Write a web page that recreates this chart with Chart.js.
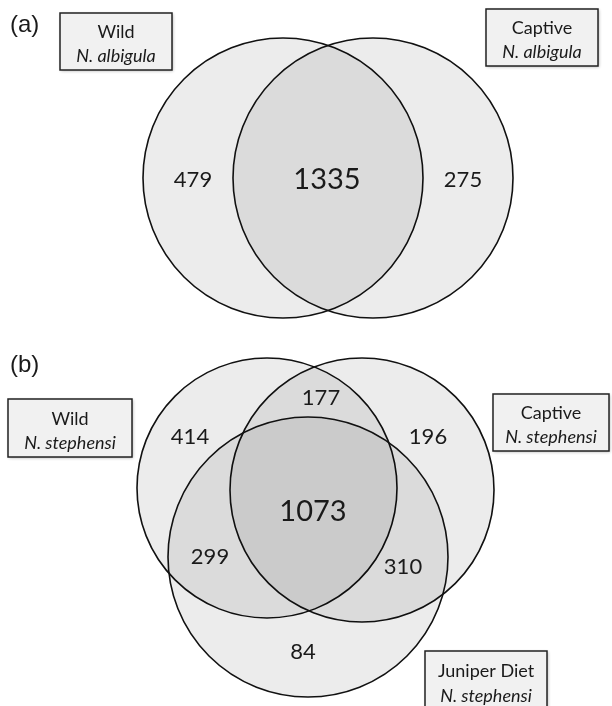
<!DOCTYPE html>
<html>
<head>
<meta charset="utf-8">
<script src="https://cdn.jsdelivr.net/npm/chart.js@4.4.0/dist/chart.umd.min.js"></script>
<style>
  html, body { margin: 0; padding: 0; background: #fff; }
</style>
</head>
<body>
<canvas id="venn" width="612" height="706"></canvas>
<script>
// ---- data ----
const panelLabels = ["(a)", "(b)"];

const setsA = ["Wild", "Captive"];
const speciesA = "N. albigula";
// wild only, shared, captive only
const countsA = [479, 1335, 275];

const setsB = ["Wild", "Captive", "Juniper Diet"];
const speciesB = "N. stephensi";
// wild only, wild+captive, captive only, all three, wild+juniper, captive+juniper, juniper only
const countsB = [414, 177, 196, 1073, 299, 310, 84];

// ---- layout (scale units = canvas px, y grows down) ----
const circlesA = [{ x: 283, y: 178, r: 140 }, { x: 373, y: 178, r: 140 }];
const circlesB = [{ x: 267, y: 488, r: 130 }, { x: 362, y: 490, r: 132 }, { x: 308, y: 557, r: 140 }];

const numPosA = [[193, 180], [327, 180], [463, 180]];
const numPosB = [[190, 437], [321, 398], [428, 437], [313, 512], [210, 557], [403, 567], [303, 652]];
const bigIndexA = 1, bigIndexB = 3;

const boxesA = [{ x: 60, y: 13, w: 112, h: 57 }, { x: 486, y: 9, w: 112, h: 57 }];
const boxesB = [{ x: 8, y: 399, w: 124, h: 58 }, { x: 493, y: 394, w: 116, h: 57 }, { x: 425, y: 651, w: 122, h: 60 }];

const panelPos = [[10, 25], [10, 365]];

const FONT = "Lato, 'Open Sans', sans-serif";
const INK = "#1a1a1a";

function toBubbles(list) {
  return list.map(c => ({ x: c.x, y: c.y, r: c.r }));
}

const vennLabels = {
  id: "vennLabels",
  afterDatasetsDraw(chart) {
    const ctx = chart.ctx;
    const sx = chart.scales.x, sy = chart.scales.y;
    const px = v => sx.getPixelForValue(v);
    const py = v => sy.getPixelForValue(v);

    ctx.save();
    ctx.fillStyle = INK;
    ctx.textBaseline = "middle";

    // panel letters
    ctx.textAlign = "left";
    ctx.font = "24px 'Liberation Sans', Arial, sans-serif";
    panelLabels.forEach((t, i) => ctx.fillText(t, px(panelPos[i][0]), py(panelPos[i][1])));

    // region counts
    ctx.textAlign = "center";
    countsA.forEach((v, i) => {
      ctx.font = (i === bigIndexA ? "29px " : "22px ") + FONT;
      ctx.fillText(String(v), px(numPosA[i][0]), py(numPosA[i][1]));
    });
    countsB.forEach((v, i) => {
      ctx.font = (i === bigIndexB ? "29px " : "22px ") + FONT;
      ctx.fillText(String(v), px(numPosB[i][0]), py(numPosB[i][1]));
    });

    // set name boxes
    function drawBox(b, name, species) {
      const x = px(b.x), y = py(b.y), w = px(b.x + b.w) - x, h = py(b.y + b.h) - y;
      ctx.save();
      ctx.shadowColor = "rgba(0,0,0,0.3)";
      ctx.shadowBlur = 3;
      ctx.shadowOffsetX = 1;
      ctx.shadowOffsetY = 1;
      ctx.fillStyle = "#f1f1f1";
      ctx.fillRect(x, y, w, h);
      ctx.restore();
      ctx.strokeStyle = "#222";
      ctx.lineWidth = 1.5;
      ctx.strokeRect(x, y, w, h);
      ctx.fillStyle = INK;
      ctx.font = "18px " + FONT;
      ctx.fillText(name, x + w / 2, y + h * 0.34);
      ctx.font = "italic 18px " + FONT;
      ctx.fillText(species, x + w / 2, y + h * 0.76);
    }
    boxesA.forEach((b, i) => drawBox(b, setsA[i], speciesA));
    boxesB.forEach((b, i) => drawBox(b, setsB[i], speciesB));
    ctx.restore();
  }
};

new Chart(document.getElementById("venn"), {
  type: "bubble",
  data: {
    datasets: [
      {
        label: "(a) " + setsA.join(" / "),
        data: toBubbles(circlesA),
        backgroundColor: "rgba(0,0,0,0.075)",
        borderColor: "#111",
        borderWidth: 1.6,
        clip: false
      },
      {
        label: "(b) " + setsB.join(" / "),
        data: toBubbles(circlesB),
        backgroundColor: "rgba(0,0,0,0.075)",
        borderColor: "#111",
        borderWidth: 1.6,
        clip: false
      }
    ]
  },
  options: {
    responsive: false,
    animation: false,
    events: [],
    layout: { padding: 0, autoPadding: false },
    plugins: { legend: { display: false }, tooltip: { enabled: false } },
    scales: {
      x: { type: "linear", min: 0, max: 612, display: false },
      y: { type: "linear", min: 0, max: 706, reverse: true, display: false }
    }
  },
  plugins: [vennLabels]
});
</script>
</body>
</html>
